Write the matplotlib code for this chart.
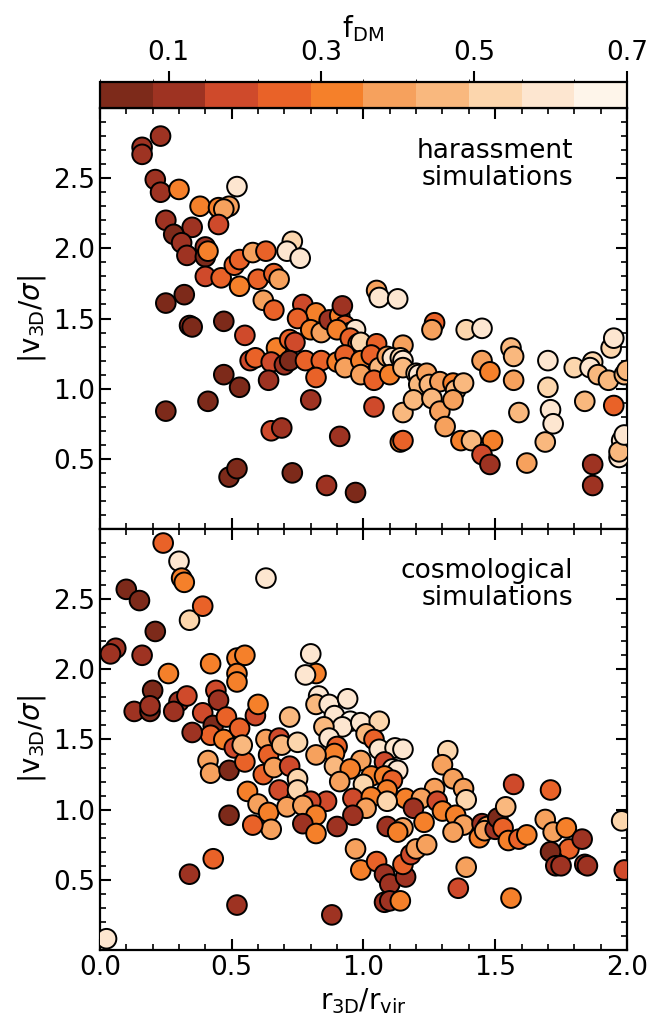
import numpy as np
import matplotlib
matplotlib.use('Agg')
import matplotlib.pyplot as plt
from matplotlib.colors import ListedColormap, BoundaryNorm
from matplotlib.ticker import MultipleLocator, FixedLocator

# fDM colour bins (10 steps between 0.01 and 0.70)
bin_colors = ['#7d2a1a', '#9e3322', '#cf4a2b', '#e96228', '#f5802a',
              '#f6a15d', '#f9b87e', '#fcd6ad', '#fde6d0', '#fef5ea']
bin_edges = np.linspace(0.01, 0.70, 11)
bin_mid = 0.5 * (bin_edges[:-1] + bin_edges[1:])
cbar_ticks = [0.1, 0.3, 0.5, 0.7]

# harassment simulations: r3D/rvir, |v3D/sigma|, colour bin
har_x = [0.23, 0.16, 0.16, 0.21, 0.23, 0.30, 0.52, 0.38, 0.45, 0.49, 0.47, 0.45, 0.25, 0.35,
         0.28, 0.31, 0.33, 0.40, 0.40, 0.41, 0.40, 0.46, 0.51, 0.53, 0.58, 0.63, 0.53, 0.60,
         0.66, 0.68, 0.73, 0.71, 0.76, 0.25, 0.32, 0.62, 0.66, 0.77, 0.82,
         0.34, 0.35, 0.47, 0.75, 0.80, 0.84, 0.87, 0.91, 0.92, 0.93, 0.95, 0.97, 1.27, 1.26,
         1.39, 1.45, 1.05, 1.06, 1.13,
         0.55, 0.67, 0.72, 0.74, 0.90, 0.95, 0.98, 0.99, 1.05, 1.15, 1.56, 1.94, 1.95,
         0.57, 0.59, 0.65, 0.70, 0.72, 0.78, 0.84, 0.90, 0.93, 0.93, 0.99, 1.03, 1.06, 1.09,
         1.11, 1.14, 1.15, 1.45, 1.57, 1.70, 1.80, 1.87,
         0.47, 0.53, 0.64, 0.82, 0.99, 1.04, 1.10, 1.15, 1.20, 1.21, 1.21, 1.24, 1.25, 1.29,
         1.34, 1.35, 1.38, 1.48, 1.57, 1.70, 1.86, 1.89, 1.93, 1.99,
         0.25, 0.41, 0.80, 1.04, 1.15, 1.19, 1.26, 1.29, 1.34, 1.59, 1.71, 1.84, 1.95,
         0.65, 0.69, 0.91, 1.14, 1.15, 1.31, 1.37, 1.41, 1.49, 1.69, 1.72, 1.98,
         0.49, 0.52, 0.73, 0.86, 0.97, 1.45, 1.48, 1.62, 1.87, 1.87, 1.97, 1.97, 2.00, 1.99]
har_y = [2.80, 2.72, 2.67, 2.49, 2.40, 2.42, 2.44, 2.30, 2.29, 2.30, 2.28, 2.17, 2.20, 2.15,
         2.10, 2.04, 1.95, 2.01, 1.94, 1.98, 1.80, 1.79, 1.88, 1.92, 1.97, 1.98, 1.73, 1.78,
         1.82, 1.78, 2.05, 1.98, 1.93, 1.61, 1.67, 1.63, 1.56, 1.60, 1.54,
         1.45, 1.44, 1.48, 1.50, 1.42, 1.40, 1.49, 1.52, 1.59, 1.45, 1.40, 1.42, 1.47, 1.42,
         1.42, 1.43, 1.70, 1.65, 1.64,
         1.38, 1.29, 1.35, 1.33, 1.42, 1.36, 1.32, 1.33, 1.32, 1.31, 1.29, 1.29, 1.36,
         1.20, 1.22, 1.19, 1.17, 1.20, 1.20, 1.20, 1.19, 1.24, 1.15, 1.20, 1.24, 1.15, 1.23,
         1.22, 1.22, 1.20, 1.20, 1.23, 1.20, 1.15, 1.19,
         1.10, 1.01, 1.06, 1.08, 1.10, 1.06, 1.10, 1.15, 1.11, 1.10, 1.03, 1.11, 1.03, 1.05,
         1.04, 0.99, 1.04, 1.12, 1.06, 1.01, 1.15, 1.10, 1.06, 1.10,
         0.84, 0.91, 0.92, 0.87, 0.83, 0.92, 0.93, 0.84, 0.92, 0.83, 0.85, 0.91, 0.88,
         0.70, 0.72, 0.66, 0.62, 0.63, 0.73, 0.63, 0.63, 0.63, 0.62, 0.75, 0.63,
         0.37, 0.43, 0.40, 0.31, 0.26, 0.53, 0.46, 0.47, 0.46, 0.31, 0.51, 0.55, 1.13, 0.67]
har_bin = [1, 1, 1, 1, 1, 4, 8, 4, 4, 5, 5, 2, 1, 1,
           0, 1, 1, 1, 0, 4, 2, 3, 3, 3, 5, 3, 4, 3,
           3, 5, 7, 8, 8, 0, 0, 5, 3, 2, 4,
           1, 0, 0, 3, 4, 5, 1, 4, 1, 3, 8, 8, 3, 5,
           7, 8, 5, 8, 8,
           2, 4, 3, 2, 4, 3, 3, 7, 3, 5, 6, 7, 8,
           2, 3, 2, 1, 0, 3, 3, 4, 3, 5, 4, 3, 6, 5,
           8, 7, 8, 5, 6, 8, 7, 7,
           0, 0, 1, 3, 5, 3, 4, 6, 7, 8, 6, 5, 6, 5,
           4, 6, 6, 4, 5, 7, 8, 6, 6, 6,
           0, 0, 1, 2, 6, 6, 6, 5, 5, 6, 8, 6, 3,
           2, 1, 1, 4, 3, 5, 4, 6, 4, 6, 8, 8,
           0, 0, 0, 1, 0, 2, 1, 5, 1, 1, 8, 6, 6, 8]

# cosmological simulations
cos_x = [0.025, 0.10, 0.15, 0.06, 0.04, 0.16, 0.24, 0.30, 0.31, 0.32, 0.34, 0.39, 0.21, 0.63,
         0.20, 0.13, 0.19, 0.19, 0.26, 0.30, 0.28, 0.33, 0.42, 0.52, 0.55, 0.52, 0.44, 0.52,
         0.39, 0.45, 0.43, 0.48, 0.42, 0.35, 0.47, 0.41, 0.42, 0.49, 0.51, 0.53, 0.55, 0.59,
         0.60, 0.54, 0.63, 0.56, 0.62, 0.64, 0.68, 0.69, 0.66, 0.68, 0.60, 0.64, 0.71, 0.65,
         0.58, 0.49, 0.43, 0.34, 0.52,
         0.80, 0.82, 0.78, 0.83, 0.82, 0.87, 0.94, 0.89, 0.95, 0.92, 0.99, 1.06, 0.85, 1.01,
         1.04, 0.87, 0.75, 0.90, 0.89, 0.82, 1.06, 1.12, 1.15, 1.32, 1.30, 0.99, 1.08, 0.89,
         0.95, 1.11, 1.13, 0.72, 0.75, 0.91, 1.03, 1.08, 1.11, 1.34, 1.00, 0.75, 1.27, 1.38,
         1.09, 0.96, 1.03, 1.16, 1.22, 1.28, 1.39, 0.86, 0.80, 0.77, 1.09, 1.01, 0.82, 0.96,
         1.19, 1.30, 1.35, 1.38, 1.23, 0.77, 0.90, 1.09, 1.15, 1.45, 1.47, 0.82, 1.34, 1.13,
         0.72,
         0.88, 0.97, 0.99, 1.05, 1.08, 1.10, 1.08, 1.10, 1.14, 1.16, 1.15, 1.18, 1.20, 1.24,
         1.36, 1.39, 1.44, 1.46, 1.50, 1.51, 1.53, 1.55, 1.59, 1.62, 1.57, 1.54, 1.56, 1.69,
         1.72, 1.77, 1.78, 1.71, 1.83, 1.84, 1.85, 1.98, 1.99, 1.71, 1.73, 1.75]
cos_y = [0.08, 2.57, 2.49, 2.15, 2.11, 2.10, 2.90, 2.77, 2.65, 2.62, 2.35, 2.45, 2.27, 2.65,
         1.85, 1.70, 1.70, 1.74, 1.97, 1.77, 1.70, 1.81, 2.04, 2.08, 2.10, 1.97, 1.85, 1.91,
         1.69, 1.78, 1.60, 1.66, 1.53, 1.55, 1.50, 1.35, 1.26, 1.28, 1.44, 1.58, 1.34, 1.67,
         1.75, 1.46, 1.50, 1.13, 1.25, 1.39, 1.51, 1.46, 1.30, 1.14, 1.04, 0.98, 1.02, 0.86,
         0.89, 0.96, 0.65, 0.54, 0.32,
         2.11, 1.97, 1.96, 1.81, 1.75, 1.75, 1.79, 1.67, 1.63, 1.59, 1.62, 1.63, 1.59, 1.54,
         1.50, 1.51, 1.48, 1.45, 1.40, 1.39, 1.43, 1.44, 1.43, 1.42, 1.32, 1.35, 1.34, 1.31,
         1.29, 1.29, 1.28, 1.31, 1.22, 1.20, 1.24, 1.24, 1.21, 1.22, 1.18, 1.14, 1.15, 1.15,
         1.14, 1.08, 1.09, 1.08, 1.08, 1.06, 1.07, 1.06, 1.06, 1.03, 1.06, 1.01, 0.96, 0.96,
         1.01, 0.99, 0.96, 0.89, 0.91, 0.90, 0.88, 0.88, 0.87, 0.90, 0.88, 0.83, 0.84, 0.84,
         1.66,
         0.25, 0.72, 0.57, 0.63, 0.54, 0.47, 0.34, 0.35, 0.35, 0.52, 0.61, 0.68, 0.72, 0.75,
         0.44, 0.59, 0.80, 0.85, 0.86, 0.94, 0.87, 0.78, 0.79, 0.82, 1.18, 1.02, 0.37, 0.93,
         0.84, 0.87, 0.72, 1.14, 0.79, 0.61, 0.60, 0.92, 0.57, 0.70, 0.60, 0.60]
cos_bin = [8, 0, 0, 1, 1, 1, 3, 8, 4, 4, 7, 3, 0, 8,
           0, 1, 0, 1, 4, 1, 1, 2, 4, 4, 4, 4, 2, 4,
           2, 1, 0, 3, 3, 1, 4, 5, 5, 0, 2, 3, 3, 2,
           4, 6, 5, 4, 3, 3, 2, 6, 5, 2, 5, 4, 5, 5,
           3, 0, 3, 1, 1,
           8, 4, 8, 8, 6, 8, 8, 8, 9, 8, 8, 7, 6, 6,
           3, 8, 7, 3, 4, 5, 8, 8, 8, 7, 5, 5, 2, 6,
           4, 8, 8, 2, 7, 5, 4, 4, 3, 5, 7, 7, 5, 5,
           4, 2, 4, 4, 5, 2, 7, 2, 2, 5, 7, 5, 4, 1,
           1, 4, 4, 5, 4, 1, 1, 1, 5, 1, 5, 4, 5, 4,
           6,
           1, 5, 4, 3, 1, 1, 1, 1, 4, 1, 3, 2, 5, 5,
           2, 5, 4, 5, 1, 0, 3, 4, 3, 4, 2, 6, 4, 5,
           5, 4, 3, 3, 1, 1, 1, 7, 2, 0, 1, 1]

cmap = ListedColormap(bin_colors)
norm = BoundaryNorm(bin_edges, cmap.N)

plt.rcParams['font.family'] = 'DejaVu Sans'
fig = plt.figure(figsize=(6.49, 10.25), dpi=100)
ax_top = fig.add_axes([0.154, 0.4839, 0.812, 0.4107])
ax_bot = fig.add_axes([0.154, 0.0732, 0.812, 0.4107], sharex=ax_top)
cax = fig.add_axes([0.154, 0.8946, 0.812, 0.0254])

panels = [(ax_top, har_x, har_y, har_bin, 'harassment\nsimulations'),
          (ax_bot, cos_x, cos_y, cos_bin, 'cosmological\nsimulations')]
for ax, xs, ys, bins, label in panels:
    fvals = bin_mid[np.array(bins)]
    ax.scatter(xs, ys, c=fvals, cmap=cmap, norm=norm, s=200,
               edgecolors='black', linewidths=1.4, zorder=3)
    ax.set_xlim(0, 2.0)
    ax.set_ylim(0, 3.0)
    ax.yaxis.set_major_locator(FixedLocator([0.5, 1.0, 1.5, 2.0, 2.5]))
    ax.yaxis.set_minor_locator(MultipleLocator(0.1))
    ax.xaxis.set_major_locator(MultipleLocator(0.5))
    ax.xaxis.set_minor_locator(MultipleLocator(0.1))
    ax.tick_params(which='both', direction='in', top=True, right=True, labelsize=19)
    ax.tick_params(which='major', length=8, width=1.5)
    ax.tick_params(which='minor', length=4, width=1.2)
    for sp in ax.spines.values():
        sp.set_linewidth(1.6)
    ax.set_ylabel(r'$|{\rm v_{3D}}/\sigma|$', fontsize=20, labelpad=4)
    ax.text(0.898, 0.93, label, transform=ax.transAxes, ha='right', va='top',
            multialignment='right', fontsize=19, linespacing=1.05)

ax_top.tick_params(labelbottom=False)
ax_bot.set_xlabel(r'${\rm r_{3D}/r_{vir}}$', fontsize=20, labelpad=4)

sm = plt.cm.ScalarMappable(norm=norm, cmap=cmap)
cb = fig.colorbar(sm, cax=cax, orientation='horizontal', ticks=cbar_ticks)
cb.ax.xaxis.set_ticks_position('top')
cb.ax.xaxis.set_label_position('top')
cb.ax.tick_params(labelsize=19, length=8, width=1.5, direction='out')
cb.ax.xaxis.set_ticklabels(['0.1', '0.3', '0.5', '0.7'])
cb.outline.set_linewidth(1.6)
cb.set_label(r'${\rm f_{DM}}$', fontsize=20, labelpad=2)

fig.savefig('out.png', dpi=100)
